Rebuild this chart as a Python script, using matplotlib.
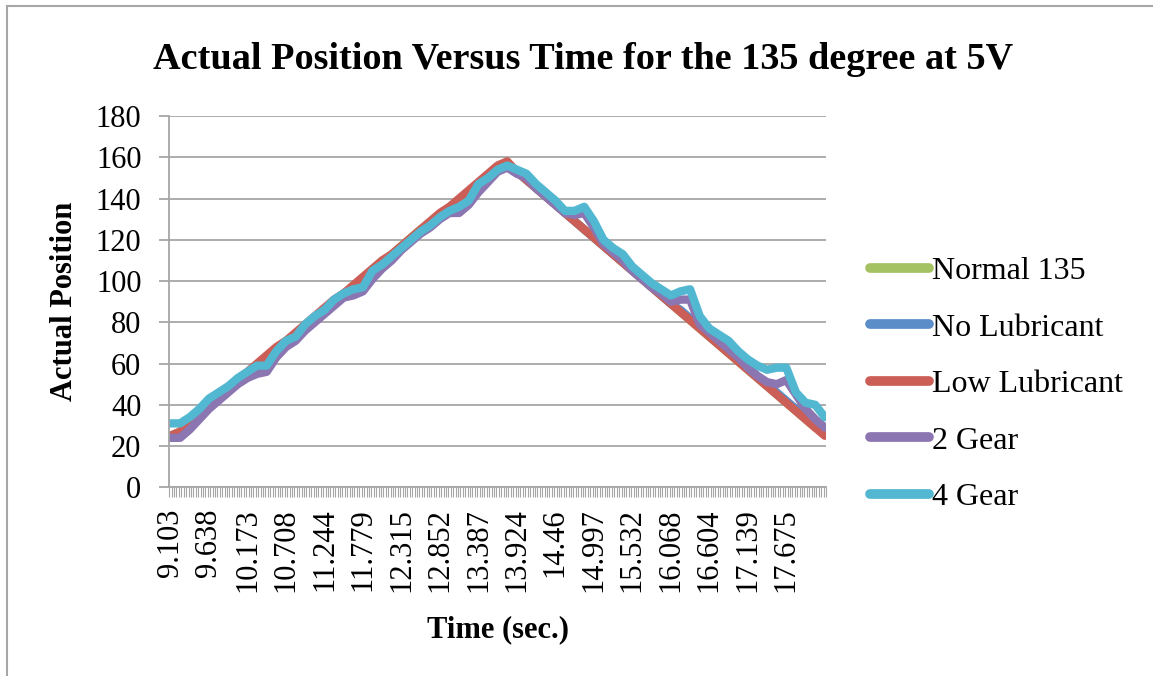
import matplotlib.pyplot as plt
from matplotlib.patches import Rectangle

# categories are equally spaced time samples; 273 of them, labelled every 16th
n_categories = 273
tick_labels = ["9.103", "9.638", "10.173", "10.708", "11.244", "11.779", "12.315",
               "12.852", "13.387", "13.924", "14.46", "14.997", "15.532", "16.068",
               "16.604", "17.139", "17.675"]
label_every = 16

# values at every 4th category
sample_idx = list(range(0, n_categories, 4))

normal_135 = [25, 27, 31, 35, 39, 43, 47, 51, 55, 59, 63, 67, 71, 74, 78, 82, 86, 90,
              94, 97, 101, 105, 109, 113, 117, 121, 125, 128, 132, 136, 139, 143, 147,
              151, 155, 157, 153, 149, 145, 141, 137, 133, 129, 125, 121, 117, 113, 109,
              105, 101, 97, 93, 89, 85, 81, 77, 73, 69, 65, 61, 57, 53, 49, 45, 41, 37,
              33, 29, 26]
no_lubricant = [24, 26, 30, 35, 39, 43, 47, 51, 55, 58, 62, 66, 70, 73, 78, 82, 86, 89,
                93, 96, 100, 104, 108, 112, 116, 120, 124, 127, 131, 135, 138, 142, 146,
                150, 154, 156, 153, 149, 145, 141, 137, 133, 129, 125, 121, 117, 113, 109,
                105, 101, 97, 93, 89, 86, 82, 78, 74, 70, 66, 62, 58, 54, 50, 46, 42, 38,
                34, 30, 27]
low_lubricant = [25, 27, 31, 36, 40, 44, 48, 52, 56, 60, 64, 68, 71, 75, 79, 83, 87, 91,
                 94, 98, 102, 106, 110, 113, 117, 121, 125, 129, 133, 136, 140, 144, 148,
                 152, 156, 158, 153, 149, 145, 141, 137, 133, 129, 125, 121, 117, 113, 109,
                 105, 101, 97, 93, 89, 85, 81, 77, 73, 69, 65, 61, 57, 53, 49, 45, 41, 37,
                 33, 29, 25]
gear_2 = [24, 24, 28, 33, 38, 42, 46, 50, 53, 55, 56, 63, 68, 71, 76, 80, 84, 88,
          92, 93, 95, 101, 106, 110, 115, 119, 123, 126, 130, 133, 133, 137, 143,
          148, 153, 155, 152, 150, 145, 141, 137, 133, 132, 133, 126, 118, 114, 110,
          105, 101, 97, 94, 90, 91, 91, 79, 75, 71, 67, 63, 58, 54, 51, 50, 52, 45,
          38, 33, 29]
gear_4 = [31, 31, 34, 38, 43, 46, 49, 53, 56, 59, 59, 66, 71, 73, 79, 83, 86, 91,
          94, 96, 97, 105, 108, 112, 116, 120, 124, 127, 131, 134, 136, 139, 147,
          150, 154, 156, 154, 152, 147, 143, 139, 134, 134, 136, 129, 120, 116, 113,
          107, 103, 99, 96, 93, 95, 96, 83, 77, 74, 71, 66, 62, 59, 57, 58, 58, 46,
          41, 40, 34]

series = [("Normal 135", normal_135, "#A5C263"),
          ("No Lubricant", no_lubricant, "#5B8DC8"),
          ("Low Lubricant", low_lubricant, "#CB5F57"),
          ("2 Gear", gear_2, "#8C76B2"),
          ("4 Gear", gear_4, "#52B7D0")]

plt.rcParams['font.family'] = ['Liberation Serif', 'DejaVu Serif']
grid_color = "#A6A6A6"

fig = plt.figure(figsize=(11.53, 6.76), dpi=100)
ax = fig.add_axes([0.1468, 0.2791, 0.5696, 0.5493])

for name, values, color in series:
    ax.plot(sample_idx, values, color=color, linewidth=6, label=name,
            solid_capstyle="round", solid_joinstyle="round")

ax.set_xlim(-0.5, n_categories - 0.5)
ax.set_ylim(0, 180)
ax.set_yticks(range(0, 181, 20))
ax.yaxis.grid(True, color=grid_color, linewidth=1.3)
ax.set_axisbelow(True)

ax.set_xticks([i * label_every for i in range(len(tick_labels))])
ax.set_xticklabels(tick_labels, rotation=90, fontsize=22)
ax.set_xticks([i - 0.5 for i in range(n_categories + 1)], minor=True)
ax.tick_params(axis="x", which="major", length=0, pad=15)
ax.tick_params(axis="x", which="minor", length=7, width=0.8, color=grid_color)
ax.tick_params(axis="y", which="major", length=7, width=1.3, color=grid_color,
               labelsize=22, pad=13)

for side in ["top", "right"]:
    ax.spines[side].set_visible(False)
for side in ["left", "bottom"]:
    ax.spines[side].set_color(grid_color)
    ax.spines[side].set_linewidth(1.3)

ax.set_xlabel("Time (sec.)", fontsize=22, fontweight="bold", labelpad=17)
ax.set_ylabel("Actual Position", fontsize=22, fontweight="bold", labelpad=12)

fig.text(0.506, 0.912, "Actual Position Versus Time for the 135 degree at 5V",
         ha="center", va="center", fontsize=27.5, fontweight="bold")

leg = ax.legend(loc="center left", bbox_to_anchor=(1.067, 0.277), frameon=False,
                fontsize=23, handlelength=1.85, handletextpad=0.08, labelspacing=0.85,
                borderpad=0, borderaxespad=0)
for line in leg.get_lines():
    line.set_linewidth(7)

# chart frame
fig.patches.append(Rectangle((7 / 1153, -0.05), 1.1, 1 - 6 / 676 + 0.05,
                             transform=fig.transFigure, fill=False,
                             edgecolor=grid_color, linewidth=1.5))

plt.savefig("out.png", dpi=100)
